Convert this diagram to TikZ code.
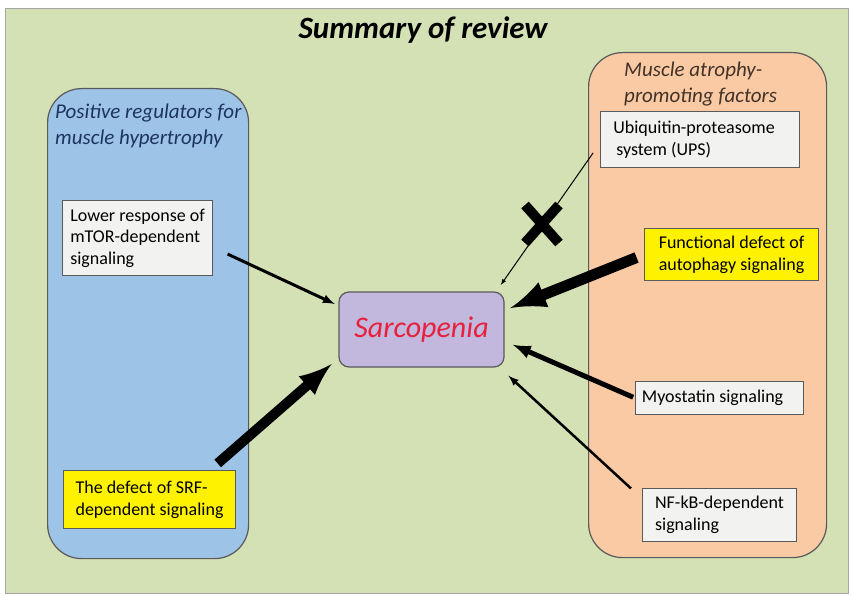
\documentclass[tikz,border=0pt]{standalone}
\usepackage{fontspec}
\setmainfont{Carlito}
\usepackage{xcolor}
\usepackage{tikz}
\usetikzlibrary{arrows}

\definecolor{sage}{RGB}{211,225,180}
\definecolor{skyfill}{RGB}{157,195,230}
\definecolor{peachfill}{RGB}{250,202,164}
\definecolor{lavfill}{RGB}{194,183,220}
\definecolor{boxfill}{RGB}{242,242,240}
\definecolor{boxline}{RGB}{90,90,90}
\definecolor{sarcred}{RGB}{232,32,62}
\definecolor{navytext}{RGB}{30,52,96}
\definecolor{browntext}{RGB}{66,50,40}

\begin{document}
\begin{tikzpicture}[x=1pt,y=-1pt,
    every node/.style={font=\fontsize{18}{21.6}\selectfont},
    group/.style={draw=boxline,line width=1.2pt,rounded corners=34pt,anchor=north west},
    infobox/.style={draw=boxline,fill=boxfill,line width=1.1pt,align=left,anchor=north west,
      inner xsep=2pt,inner ysep=0pt},
    hilite/.style={infobox,fill=yellow},
    heading/.style={align=left,anchor=west,inner sep=0pt,
      font=\fontsize{21}{25.5}\selectfont\itshape}]
    \useasboundingbox (0,0) rectangle (851,596);
    \draw[fill=sage,draw=gray!70] (5,8) rectangle (848,593);
    \node[font=\fontsize{31}{37}\selectfont\bfseries\itshape] (title) at (423,30) {Summary of review};

    % the two groups
    \node[group,fill=skyfill,minimum width=201pt,minimum height=470pt] (hyper) at (47,88) {};
    \node[group,fill=peachfill,minimum width=238pt,minimum height=505pt] (atrophy) at (588,52) {};
    \node[heading,text=navytext] (hyperhead) at (55,126) {Positive regulators for\\muscle hypertrophy};
    \node[heading,text=browntext] (atrophyhead) at (624,84) {Muscle atrophy-\\promoting factors};

    % factors
    \node[infobox,minimum width=150pt,minimum height=75pt] (mtor) at (62,200)
      {Lower response of\\mTOR-dependent\\signaling};
    \node[hilite,minimum width=172pt,minimum height=58pt] (srf) at (63,470)
      {The defect of SRF-\\dependent signaling};
    \node[infobox,minimum width=199pt,minimum height=56pt] (ups) at (600,111)
      {Ubiquitin-proteasome\hspace*{12pt}\\\hspace{3pt}system (UPS)};
    \node[hilite,minimum width=174pt,minimum height=52pt] (autoph) at (644,228)
      {Functional defect of\\autophagy signaling};
    \node[infobox,minimum width=168pt,minimum height=33pt] (myo) at (635,381)
      {Myostatin signaling\hspace{14pt}};
    \node[infobox,minimum width=154pt,minimum height=53pt] (nfkb) at (642,488)
      {NF-kB-dependent\\signaling\hspace{52pt}};

    \node[draw=boxline,fill=lavfill,line width=1.2pt,rounded corners=10pt,
      minimum width=165pt,minimum height=75pt,text=sarcred,
      font=\fontsize{30}{36}\selectfont\itshape] (sarc) at (421.5,329.5) {Sarcopenia};

    % connectors
    \draw[-latex,line width=3pt,shorten <=16pt,shorten >=4pt] (mtor.-7) -- (sarc.164);
    \draw[-latex,line width=10pt,shorten <=10pt,shorten >=9pt] (srf.26) -- (sarc.199);
    \draw[-latex,line width=1pt,shorten <=12pt,shorten >=8pt] (ups.182) -- (sarc.27);
    \draw[-latex,line width=11pt,shorten <=8pt,shorten >=6pt] (autoph.180) -- (sarc.13);
    \draw[-latex,line width=5pt,shorten <=2pt,shorten >=9pt] (myo.west) -- (sarc.-8);
    \draw[-latex,line width=2.5pt,shorten <=15pt,shorten >=12pt] (nfkb.168) -- (sarc.-26);

    % blocked mark
    \coordinate (block) at (542,224);
    \draw[line width=10pt] ([shift={(-17,-19)}]block) -- ([shift={(17,19)}]block);
    \draw[line width=10pt] ([shift={(17,-19)}]block) -- ([shift={(-17,19)}]block);
  \end{tikzpicture}
\end{document}
